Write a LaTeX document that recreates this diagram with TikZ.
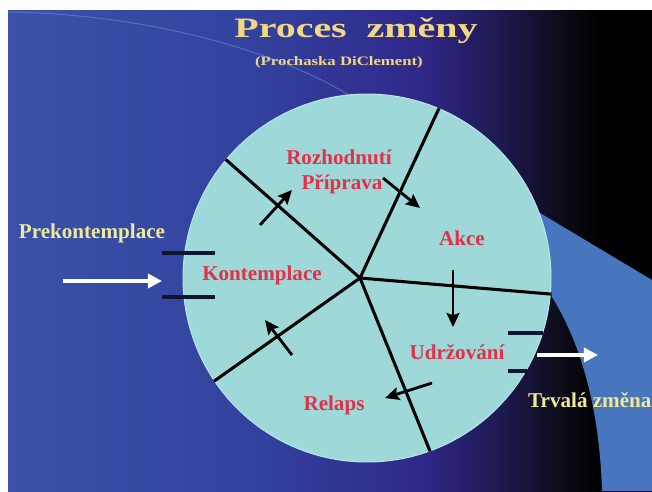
\documentclass[tikz,border=0pt]{standalone}
\usepackage{fontspec}
\setmainfont{Liberation Serif}
\usepackage{graphicx}
\usetikzlibrary{arrows.meta}

\definecolor{bgleft}{RGB}{58,82,170}
\definecolor{bgmid}{RGB}{50,66,158}
\definecolor{bgpurple}{RGB}{48,40,138}
\definecolor{bgdark}{RGB}{30,26,82}
\definecolor{bgblack}{RGB}{12,12,24}
\definecolor{bandblue}{RGB}{72,118,190}
\definecolor{wheelcyan}{RGB}{158,216,216}
\definecolor{wheelrim}{RGB}{190,230,240}
\definecolor{stagered}{RGB}{226,48,72}
\definecolor{sideyellow}{RGB}{238,234,150}
\definecolor{titlegold}{RGB}{242,216,130}
\definecolor{tickblue}{RGB}{16,22,48}
\definecolor{arcblue}{RGB}{110,140,215}

\pgfdeclarehorizontalshading{slide}{100bp}{color(0bp)=(bgleft); color(25bp)=(bgleft); color(44bp)=(bgmid); color(57bp)=(bgpurple); color(63bp)=(bgdark); color(68bp)=(bgblack); color(71bp)=(black); color(100bp)=(black)}

\begin{document}
\begin{tikzpicture}[x=0.03cm,y=-0.03cm,
    stage/.style={text=stagered,font=\fontsize{18}{20}\selectfont\bfseries,inner sep=0pt},
    side/.style={text=sideyellow,font=\fontsize{18}{20}\selectfont\bfseries,inner sep=0pt},
    spoke/.style={black,line width=2.6pt},
    tick/.style={tickblue,line width=2.8pt},
    turn/.style={-{Stealth[length=12pt,width=11pt,inset=2pt]},line width=2.4pt,black},
    pass/.style={-{Triangle[length=12pt,width=12pt]},line width=3.6pt,white}]
    \useasboundingbox (0,0) rectangle (652,491);
    \clip (0,0) rectangle (652,491);

    %% slide
    \fill[white] (0,0) rectangle (652,491);
    \shade[shading=slide] (8,10) rectangle (652,491);
    \draw[arcblue,opacity=0.6,line width=0.8pt] (8,12) .. controls (150,14) and (280,52) .. (352,97);
    \fill[bandblue] (540,213) -- (652,280) -- (652,491) -- (602,491) .. controls (600,420) and (585,350) .. (552,297) -- cycle;

    %% title
    \node[text=titlegold,font=\fontsize{24}{26}\selectfont\bfseries,inner sep=0pt] (title) at (356,31) {\scalebox{1.42}[1]{Proces\ \ změny}};
    \node[text=titlegold,font=\fontsize{11}{12}\selectfont\bfseries,inner sep=0pt] (authors) at (339,62) {\scalebox{1.3}[1]{(Prochaska DiClement)}};

    %% wheel
    \node[circle,fill=wheelcyan,draw=wheelrim,line width=0.8pt,minimum size=11.04cm,inner sep=0pt] (wheel) at (367,278) {};
    \coordinate (hub) at (360,278);
    \draw[spoke] (hub) -- (wheel.140);
    \draw[spoke] (hub) -- (wheel.67);
    \draw[spoke] (hub) -- (wheel.-5.6);
    \draw[spoke] (hub) -- (wheel.-70.6);
    \draw[spoke] (hub) -- (wheel.214.7);

    %% ticks
    \draw[tick] (162,253) -- (215,253);
    \draw[tick] (162,297) -- (215,297);
    \draw[tick] (508,333) -- (543,333);
    \draw[tick] (508,371) -- (527,371);

    %% stages
    \node[side] (pre) at (92,233) {Prekontemplace};
    \node[stage] (kon) at (262,275) {Kontemplace};
    \node[stage] (roz) at (339,157) {Rozhodnutí};
    \node[stage] (pri) at (342,184) {Příprava};
    \node[stage] (akce) at (462,238) {Akce};
    \node[stage] (udr) at (457,352) {Udržování};
    \node[stage] (rel) at (334,405) {Relaps};
    \node[side,anchor=west] (trv) at (528,400) {Trvalá změna};

    %% arrows
    \coordinate (konOut) at (260,225);
    \coordinate (rozIn) at (292,190);
    \coordinate (priOut) at (383,178);
    \coordinate (akceIn) at (420,208);
    \coordinate (akceOut) at (453,270);
    \coordinate (udrIn) at (453,327);
    \coordinate (udrOut) at (432,383);
    \coordinate (relIn) at (385,398);
    \coordinate (relOut) at (292,355);
    \coordinate (konIn) at (265,320);
    \draw[turn] (konOut) -- (rozIn);
    \draw[turn] (priOut) -- (akceIn);
    \draw[turn] (akceOut) -- (udrIn);
    \draw[turn] (udrOut) -- (relIn);
    \draw[turn] (relOut) -- (konIn);

    \coordinate (preOut) at (63,281);
    \coordinate (preIn) at (162,281);
    \coordinate (trvOut) at (537,355);
    \coordinate (trvIn) at (598,355);
    \draw[pass] (preOut) -- (preIn);
    \draw[pass] (trvOut) -- (trvIn);
\end{tikzpicture}
\end{document}
